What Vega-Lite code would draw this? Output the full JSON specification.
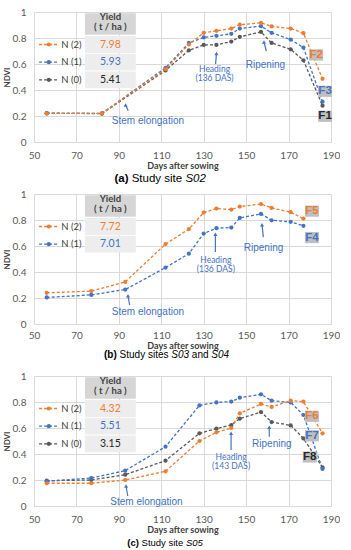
{
"$schema": "https://vega.github.io/schema/vega-lite/v6.json",
"background": "white",
"padding": {"left": 3, "top": 7, "right": 0, "bottom": 0},
"spacing": 52,
"bounds": "flush",
"config": {
  "view": {"stroke": null},
  "axis": {"grid": true, "gridColor": "#d9d9d9", "gridWidth": 1, "domain": false, "ticks": false,
    "labelOverlap": false, "labelFlush": false,
    "labelFont": "Lato", "labelFontSize": 10, "labelColor": "#595959",
    "titleFont": "Lato", "titleFontSize": 9, "titleColor": "#404040", "titleFontWeight": "bold"},
  "axisY": {"tickCount": 10},
  "axisX": {"tickCount": 10}
},
"datasets": {
  "ndvi": [
    {"p":"a","s":"N (0)","d":56,"v":0.222},{"p":"a","s":"N (0)","d":82,"v":0.218},{"p":"a","s":"N (0)","d":112,"v":0.55},{"p":"a","s":"N (0)","d":123,"v":0.705},{"p":"a","s":"N (0)","d":130,"v":0.747},{"p":"a","s":"N (0)","d":136,"v":0.747},{"p":"a","s":"N (0)","d":143,"v":0.773},{"p":"a","s":"N (0)","d":147,"v":0.809},{"p":"a","s":"N (0)","d":157,"v":0.847},{"p":"a","s":"N (0)","d":162,"v":0.762},{"p":"a","s":"N (0)","d":171,"v":0.713},{"p":"a","s":"N (0)","d":177,"v":0.628},{"p":"a","s":"N (0)","d":186,"v":0.279},
    {"p":"a","s":"N (1)","d":56,"v":0.22},{"p":"a","s":"N (1)","d":82,"v":0.22},{"p":"a","s":"N (1)","d":112,"v":0.571},{"p":"a","s":"N (1)","d":123,"v":0.762},{"p":"a","s":"N (1)","d":130,"v":0.804},{"p":"a","s":"N (1)","d":136,"v":0.817},{"p":"a","s":"N (1)","d":143,"v":0.832},{"p":"a","s":"N (1)","d":147,"v":0.873},{"p":"a","s":"N (1)","d":157,"v":0.891},{"p":"a","s":"N (1)","d":162,"v":0.84},{"p":"a","s":"N (1)","d":171,"v":0.788},{"p":"a","s":"N (1)","d":177,"v":0.726},{"p":"a","s":"N (1)","d":186,"v":0.31},
    {"p":"a","s":"N (2)","d":56,"v":0.22},{"p":"a","s":"N (2)","d":82,"v":0.22},{"p":"a","s":"N (2)","d":112,"v":0.56},{"p":"a","s":"N (2)","d":123,"v":0.75},{"p":"a","s":"N (2)","d":130,"v":0.84},{"p":"a","s":"N (2)","d":136,"v":0.855},{"p":"a","s":"N (2)","d":143,"v":0.873},{"p":"a","s":"N (2)","d":147,"v":0.902},{"p":"a","s":"N (2)","d":157,"v":0.917},{"p":"a","s":"N (2)","d":162,"v":0.889},{"p":"a","s":"N (2)","d":171,"v":0.873},{"p":"a","s":"N (2)","d":177,"v":0.837},{"p":"a","s":"N (2)","d":186,"v":0.486},
    {"p":"b","s":"N (1)","d":56,"v":0.204},{"p":"b","s":"N (1)","d":77,"v":0.224},{"p":"b","s":"N (1)","d":93,"v":0.265},{"p":"b","s":"N (1)","d":112,"v":0.434},{"p":"b","s":"N (1)","d":123,"v":0.541},{"p":"b","s":"N (1)","d":130,"v":0.696},{"p":"b","s":"N (1)","d":136,"v":0.737},{"p":"b","s":"N (1)","d":143,"v":0.742},{"p":"b","s":"N (1)","d":147,"v":0.816},{"p":"b","s":"N (1)","d":157,"v":0.847},{"p":"b","s":"N (1)","d":162,"v":0.798},{"p":"b","s":"N (1)","d":171,"v":0.786},{"p":"b","s":"N (1)","d":177,"v":0.755},
    {"p":"b","s":"N (2)","d":56,"v":0.24},{"p":"b","s":"N (2)","d":77,"v":0.253},{"p":"b","s":"N (2)","d":93,"v":0.324},{"p":"b","s":"N (2)","d":112,"v":0.615},{"p":"b","s":"N (2)","d":123,"v":0.73},{"p":"b","s":"N (2)","d":130,"v":0.857},{"p":"b","s":"N (2)","d":136,"v":0.888},{"p":"b","s":"N (2)","d":143,"v":0.88},{"p":"b","s":"N (2)","d":147,"v":0.903},{"p":"b","s":"N (2)","d":157,"v":0.923},{"p":"b","s":"N (2)","d":162,"v":0.893},{"p":"b","s":"N (2)","d":171,"v":0.86},{"p":"b","s":"N (2)","d":177,"v":0.811},
    {"p":"c","s":"N (0)","d":56,"v":0.195},{"p":"c","s":"N (0)","d":77,"v":0.2},{"p":"c","s":"N (0)","d":93,"v":0.241},{"p":"c","s":"N (0)","d":112,"v":0.349},{"p":"c","s":"N (0)","d":128,"v":0.559},{"p":"c","s":"N (0)","d":136,"v":0.595},{"p":"c","s":"N (0)","d":143,"v":0.623},{"p":"c","s":"N (0)","d":147,"v":0.672},{"p":"c","s":"N (0)","d":157,"v":0.723},{"p":"c","s":"N (0)","d":162,"v":0.646},{"p":"c","s":"N (0)","d":171,"v":0.62},{"p":"c","s":"N (0)","d":177,"v":0.52},{"p":"c","s":"N (0)","d":186,"v":0.297},
    {"p":"c","s":"N (1)","d":56,"v":0.19},{"p":"c","s":"N (1)","d":77,"v":0.215},{"p":"c","s":"N (1)","d":93,"v":0.272},{"p":"c","s":"N (1)","d":112,"v":0.456},{"p":"c","s":"N (1)","d":128,"v":0.774},{"p":"c","s":"N (1)","d":136,"v":0.797},{"p":"c","s":"N (1)","d":143,"v":0.803},{"p":"c","s":"N (1)","d":147,"v":0.833},{"p":"c","s":"N (1)","d":157,"v":0.859},{"p":"c","s":"N (1)","d":162,"v":0.81},{"p":"c","s":"N (1)","d":171,"v":0.797},{"p":"c","s":"N (1)","d":177,"v":0.7},{"p":"c","s":"N (1)","d":186,"v":0.285},
    {"p":"c","s":"N (2)","d":56,"v":0.175},{"p":"c","s":"N (2)","d":77,"v":0.175},{"p":"c","s":"N (2)","d":93,"v":0.2},{"p":"c","s":"N (2)","d":112,"v":0.267},{"p":"c","s":"N (2)","d":128,"v":0.5},{"p":"c","s":"N (2)","d":136,"v":0.567},{"p":"c","s":"N (2)","d":143,"v":0.6},{"p":"c","s":"N (2)","d":147,"v":0.713},{"p":"c","s":"N (2)","d":157,"v":0.785},{"p":"c","s":"N (2)","d":162,"v":0.762},{"p":"c","s":"N (2)","d":171,"v":0.81},{"p":"c","s":"N (2)","d":177,"v":0.803},{"p":"c","s":"N (2)","d":186,"v":0.559}
  ],
  "legend": [
    {"p":"a","s":"N (2)","yield":"7.98","y":0.75,"y1":0.815,"y2":0.685},
    {"p":"a","s":"N (1)","yield":"5.93","y":0.614,"y1":0.678,"y2":0.55},
    {"p":"a","s":"N (0)","yield":"5.41","y":0.478,"y1":0.543,"y2":0.413},
    {"p":"b","s":"N (2)","yield":"7.72","y":0.75,"y1":0.815,"y2":0.685},
    {"p":"b","s":"N (1)","yield":"7.01","y":0.614,"y1":0.678,"y2":0.55},
    {"p":"c","s":"N (2)","yield":"4.32","y":0.75,"y1":0.815,"y2":0.685},
    {"p":"c","s":"N (1)","yield":"5.51","y":0.614,"y1":0.678,"y2":0.55},
    {"p":"c","s":"N (0)","yield":"3.15","y":0.478,"y1":0.543,"y2":0.413}
  ],
  "header": [{"t":"Yield","y":0.958},{"t":"( t / ha )","y":0.882}],
  "notes": [
    {"p":"a","kind":"stage","x":103.7,"y":0.16,"t":"Stem elongation"},
    {"p":"a","kind":"stage","x":159.1,"y":0.59,"t":"Ripening"},
    {"p":"a","kind":"heading","x":135.1,"y":0.56,"t":"Heading"},
    {"p":"a","kind":"heading","x":135.1,"y":0.49,"t":"(136 DAS)"},
    {"p":"b","kind":"stage","x":103.7,"y":0.094,"t":"Stem elongation"},
    {"p":"b","kind":"stage","x":158.2,"y":0.584,"t":"Ripening"},
    {"p":"b","kind":"heading","x":135.7,"y":0.495,"t":"Heading"},
    {"p":"b","kind":"heading","x":135.7,"y":0.426,"t":"(136 DAS)"},
    {"p":"c","kind":"stage","x":103,"y":0.033,"t":"Stem elongation"},
    {"p":"c","kind":"stage","x":162.1,"y":0.477,"t":"Ripening"},
    {"p":"c","kind":"heading","x":142.9,"y":0.38,"t":"Heading"},
    {"p":"c","kind":"heading","x":142.9,"y":0.308,"t":"(143 DAS)"}
  ],
  "arrows": [
    {"p":"a","x":94.4,"y":0.24,"x2":93.2,"y2":0.284},
    {"p":"a","x":135.6,"y":0.6,"x2":136,"y2":0.68},
    {"p":"a","x":159.5,"y":0.7,"x2":158.4,"y2":0.77},
    {"p":"b","x":95.1,"y":0.145,"x2":94.3,"y2":0.217},
    {"p":"b","x":135.5,"y":0.554,"x2":135.5,"y2":0.691},
    {"p":"b","x":158.1,"y":0.668,"x2":157.5,"y2":0.763},
    {"p":"c","x":94.2,"y":0.077,"x2":93.4,"y2":0.154},
    {"p":"c","x":142.9,"y":0.431,"x2":142.9,"y2":0.559},
    {"p":"c","x":160.9,"y":0.533,"x2":160.9,"y2":0.605}
  ],
  "flabels": [
    {"p":"a","t":"F2","s":"N (2)","x":183,"y":0.67},
    {"p":"a","t":"F3","s":"N (1)","x":187.2,"y":0.39},
    {"p":"a","t":"F1","s":"N (0)","x":187.2,"y":0.198},
    {"p":"b","t":"F5","s":"N (2)","x":181,"y":0.868},
    {"p":"b","t":"F4","s":"N (1)","x":181,"y":0.665},
    {"p":"c","t":"F6","s":"N (2)","x":181,"y":0.69},
    {"p":"c","t":"F7","s":"N (1)","x":181,"y":0.54},
    {"p":"c","t":"F8","s":"N (0)","x":180,"y":0.377}
  ],
  "captions": [
    {"p":"a","part":"letter","x":87.95,"y":-0.285,"t":"(a)"},
    {"p":"a","part":"words","x":96.04,"y":-0.285,"t":"Study site"},
    {"p":"a","part":"site","x":121.36,"y":-0.285,"t":"S02"},
    {"p":"b","part":"letter","x":83.0,"y":-0.24,"t":"(b)"},
    {"p":"b","part":"words","x":90.35,"y":-0.24,"t":"Study sites"},
    {"p":"b","part":"site","x":114.7,"y":-0.24,"t":"S03"},
    {"p":"b","part":"words","x":124.4,"y":-0.24,"t":"and"},
    {"p":"b","part":"site","x":133.6,"y":-0.24,"t":"S04"},
    {"p":"c","part":"letter","x":93.98,"y":-0.287,"t":"(c)"},
    {"p":"c","part":"words","x":100.7,"y":-0.287,"t":"Study site"},
    {"p":"c","part":"site","x":121.65,"y":-0.287,"t":"S05"}
  ]
},
"vconcat": [
  {
    "width": 297, "height": 130,
    "layer": [
      {"data": {"name": "ndvi"}, "transform": [{"filter": "datum.p == 'a'"}],
       "mark": {"type": "line", "strokeDash": [3,2], "strokeWidth": 1.3, "point": {"filled": true, "size": 18, "opacity": 1}},
       "encoding": {
         "x": {"field": "d", "type": "quantitative", "scale": {"domain": [50,190], "nice": false},
               "axis": {"values": [50,70,90,110,130,150,170,190], "tickCount": 10, "title": "Days after sowing", "labelPadding": 8, "titlePadding": 1}},
         "y": {"field": "v", "type": "quantitative", "scale": {"domain": [0,1], "nice": false},
               "axis": {"values": [0,0.2,0.4,0.6,0.8,1], "tickCount": 10, "format": ".1~f", "title": "NDVI", "labelPadding": 8, "titlePadding": 1, "titleFontSize": 8, "labelOverlap": false}},
         "color": {"field": "s", "scale": {"domain": ["N (2)","N (1)","N (0)"], "range": ["#ED7D31","#4472C4","#595959"]}, "legend": null}}},
      {"data": {"name": "legend"}, "transform": [{"filter": "datum.p == 'a'"}],
       "mark": {"type": "rect", "fill": "#ededed"},
       "encoding": {"x": {"datum": 74}, "x2": {"datum": 98},
                    "y": {"field": "y1", "type": "quantitative"}, "y2": {"field": "y2"}}},
      {"data": {"values": [{"cell": "header"}]},
       "mark": {"type": "rect", "fill": "#d6d6d6"},
       "encoding": {"x": {"datum": 74}, "x2": {"datum": 98}, "y": {"datum": 0.99}, "y2": {"datum": 0.825}}},
      {"data": {"name": "header"},
       "mark": {"type": "text", "font": "Lato", "fontSize": 9.5, "fontWeight": "bold", "color": "#404040", "baseline": "middle"},
       "encoding": {"x": {"datum": 86}, "y": {"field": "y", "type": "quantitative"}, "text": {"field": "t"}}},
      {"data": {"name": "legend"}, "transform": [{"filter": "datum.p == 'a'"}],
       "mark": {"type": "text", "font": "Lato", "fontSize": 10.5, "baseline": "middle"},
       "encoding": {"x": {"datum": 86}, "y": {"field": "y", "type": "quantitative"}, "text": {"field": "yield"},
                    "fill": {"field": "s", "scale": {"domain": ["N (2)","N (1)","N (0)"], "range": ["#ED7D31","#4472C4","#262626"]}, "legend": null}}},
      {"data": {"name": "legend"}, "transform": [{"filter": "datum.p == 'a'"}],
       "mark": {"type": "rule", "strokeDash": [3,2], "strokeWidth": 1.3},
       "encoding": {"x": {"datum": 52.4}, "x2": {"datum": 61.3}, "y": {"field": "y", "type": "quantitative"},
                    "color": {"field": "s", "legend": null}}},
      {"data": {"name": "legend"}, "transform": [{"filter": "datum.p == 'a'"}],
       "mark": {"type": "point", "filled": true, "size": 18, "opacity": 1},
       "encoding": {"x": {"datum": 57}, "y": {"field": "y", "type": "quantitative"},
                    "color": {"field": "s", "legend": null}}},
      {"data": {"name": "legend"}, "transform": [{"filter": "datum.p == 'a'"}],
       "mark": {"type": "text", "font": "Lato", "fontSize": 9.5, "color": "#404040", "align": "left", "baseline": "middle"},
       "encoding": {"x": {"datum": 62.9}, "y": {"field": "y", "type": "quantitative"}, "text": {"field": "s"}}},
      {"data": {"name": "notes"}, "transform": [{"filter": "datum.p == 'a' && datum.kind == 'stage'"}],
       "mark": {"type": "text", "font": "Liberation Sans", "fontSize": 10, "color": "#4472C4", "baseline": "middle"},
       "encoding": {"x": {"field": "x", "type": "quantitative"}, "y": {"field": "y", "type": "quantitative"}, "text": {"field": "t"}}},
      {"data": {"name": "notes"}, "transform": [{"filter": "datum.p == 'a' && datum.kind == 'heading'"}],
       "mark": {"type": "text", "font": "Lato", "fontSize": 8.5, "color": "#4472C4", "baseline": "middle"},
       "encoding": {"x": {"field": "x", "type": "quantitative"}, "y": {"field": "y", "type": "quantitative"}, "text": {"field": "t"}}},
      {"data": {"name": "arrows"}, "transform": [{"filter": "datum.p == 'a'"}],
       "mark": {"type": "rule", "color": "#4472C4", "strokeWidth": 1.2},
       "encoding": {"x": {"field": "x", "type": "quantitative"}, "y": {"field": "y", "type": "quantitative"}, "x2": {"field": "x2"}, "y2": {"field": "y2"}}},
      {"data": {"name": "arrows"}, "transform": [{"filter": "datum.p == 'a'"}],
       "mark": {"type": "point", "shape": "triangle-up", "filled": true, "size": 16, "color": "#4472C4", "opacity": 1},
       "encoding": {"x": {"field": "x2", "type": "quantitative"}, "y": {"field": "y2", "type": "quantitative"}}},
      {"data": {"name": "flabels"}, "transform": [{"filter": "datum.p == 'a'"}],
       "mark": {"type": "point", "shape": "M-1,-0.8H1V0.8H-1Z", "filled": true, "size": 196, "color": "#bfbfbf", "opacity": 1},
       "encoding": {"x": {"field": "x", "type": "quantitative"}, "y": {"field": "y", "type": "quantitative"}}},
      {"data": {"name": "flabels"}, "transform": [{"filter": "datum.p == 'a'"}],
       "mark": {"type": "text", "font": "Liberation Sans", "fontSize": 11.5, "fontWeight": "bold", "baseline": "middle"},
       "encoding": {"x": {"field": "x", "type": "quantitative"}, "y": {"field": "y", "type": "quantitative"}, "text": {"field": "t"},
                    "fill": {"field": "s", "legend": null}}},
      {"data": {"name": "captions"}, "transform": [{"filter": "datum.p == 'a' && datum.part == 'letter'"}],
       "mark": {"type": "text", "font": "Liberation Sans", "fontSize": 11.5, "fontWeight": "bold", "color": "#000000", "align": "left", "baseline": "middle"},
       "encoding": {"x": {"field": "x", "type": "quantitative"}, "y": {"field": "y", "type": "quantitative"}, "text": {"field": "t"}}},
      {"data": {"name": "captions"}, "transform": [{"filter": "datum.p == 'a' && datum.part == 'words'"}],
       "mark": {"type": "text", "font": "Liberation Sans", "fontSize": 11.5, "color": "#000000", "align": "left", "baseline": "middle"},
       "encoding": {"x": {"field": "x", "type": "quantitative"}, "y": {"field": "y", "type": "quantitative"}, "text": {"field": "t"}}},
      {"data": {"name": "captions"}, "transform": [{"filter": "datum.p == 'a' && datum.part == 'site'"}],
       "mark": {"type": "text", "font": "Liberation Sans", "fontSize": 11.5, "fontStyle": "italic", "color": "#000000", "align": "left", "baseline": "middle"},
       "encoding": {"x": {"field": "x", "type": "quantitative"}, "y": {"field": "y", "type": "quantitative"}, "text": {"field": "t"}}}
    ]
  },
  {
    "width": 297, "height": 130,
    "layer": [
      {"data": {"name": "ndvi"}, "transform": [{"filter": "datum.p == 'b'"}],
       "mark": {"type": "line", "strokeDash": [3,2], "strokeWidth": 1.3, "point": {"filled": true, "size": 18, "opacity": 1}},
       "encoding": {
         "x": {"field": "d", "type": "quantitative", "scale": {"domain": [50,190], "nice": false},
               "axis": {"values": [50,70,90,110,130,150,170,190], "tickCount": 10, "title": "Days after sowing", "labelPadding": 6, "titlePadding": 1}},
         "y": {"field": "v", "type": "quantitative", "scale": {"domain": [0,1], "nice": false},
               "axis": {"values": [0,0.2,0.4,0.6,0.8,1], "tickCount": 10, "format": ".1~f", "title": "NDVI", "labelPadding": 8, "titlePadding": 1, "titleFontSize": 8, "labelOverlap": false}},
         "color": {"field": "s", "scale": {"domain": ["N (2)","N (1)","N (0)"], "range": ["#ED7D31","#4472C4","#595959"]}, "legend": null}}},
      {"data": {"name": "legend"}, "transform": [{"filter": "datum.p == 'b'"}],
       "mark": {"type": "rect", "fill": "#ededed"},
       "encoding": {"x": {"datum": 74}, "x2": {"datum": 98},
                    "y": {"field": "y1", "type": "quantitative"}, "y2": {"field": "y2"}}},
      {"data": {"values": [{"cell": "header"}]},
       "mark": {"type": "rect", "fill": "#d6d6d6"},
       "encoding": {"x": {"datum": 74}, "x2": {"datum": 98}, "y": {"datum": 0.99}, "y2": {"datum": 0.825}}},
      {"data": {"name": "header"},
       "mark": {"type": "text", "font": "Lato", "fontSize": 9.5, "fontWeight": "bold", "color": "#404040", "baseline": "middle"},
       "encoding": {"x": {"datum": 86}, "y": {"field": "y", "type": "quantitative"}, "text": {"field": "t"}}},
      {"data": {"name": "legend"}, "transform": [{"filter": "datum.p == 'b'"}],
       "mark": {"type": "text", "font": "Lato", "fontSize": 10.5, "baseline": "middle"},
       "encoding": {"x": {"datum": 86}, "y": {"field": "y", "type": "quantitative"}, "text": {"field": "yield"},
                    "fill": {"field": "s", "scale": {"domain": ["N (2)","N (1)","N (0)"], "range": ["#ED7D31","#4472C4","#262626"]}, "legend": null}}},
      {"data": {"name": "legend"}, "transform": [{"filter": "datum.p == 'b'"}],
       "mark": {"type": "rule", "strokeDash": [3,2], "strokeWidth": 1.3},
       "encoding": {"x": {"datum": 52.4}, "x2": {"datum": 61.3}, "y": {"field": "y", "type": "quantitative"},
                    "color": {"field": "s", "legend": null}}},
      {"data": {"name": "legend"}, "transform": [{"filter": "datum.p == 'b'"}],
       "mark": {"type": "point", "filled": true, "size": 18, "opacity": 1},
       "encoding": {"x": {"datum": 57}, "y": {"field": "y", "type": "quantitative"},
                    "color": {"field": "s", "legend": null}}},
      {"data": {"name": "legend"}, "transform": [{"filter": "datum.p == 'b'"}],
       "mark": {"type": "text", "font": "Lato", "fontSize": 9.5, "color": "#404040", "align": "left", "baseline": "middle"},
       "encoding": {"x": {"datum": 62.9}, "y": {"field": "y", "type": "quantitative"}, "text": {"field": "s"}}},
      {"data": {"name": "notes"}, "transform": [{"filter": "datum.p == 'b' && datum.kind == 'stage'"}],
       "mark": {"type": "text", "font": "Liberation Sans", "fontSize": 10, "color": "#4472C4", "baseline": "middle"},
       "encoding": {"x": {"field": "x", "type": "quantitative"}, "y": {"field": "y", "type": "quantitative"}, "text": {"field": "t"}}},
      {"data": {"name": "notes"}, "transform": [{"filter": "datum.p == 'b' && datum.kind == 'heading'"}],
       "mark": {"type": "text", "font": "Lato", "fontSize": 8.5, "color": "#4472C4", "baseline": "middle"},
       "encoding": {"x": {"field": "x", "type": "quantitative"}, "y": {"field": "y", "type": "quantitative"}, "text": {"field": "t"}}},
      {"data": {"name": "arrows"}, "transform": [{"filter": "datum.p == 'b'"}],
       "mark": {"type": "rule", "color": "#4472C4", "strokeWidth": 1.2},
       "encoding": {"x": {"field": "x", "type": "quantitative"}, "y": {"field": "y", "type": "quantitative"}, "x2": {"field": "x2"}, "y2": {"field": "y2"}}},
      {"data": {"name": "arrows"}, "transform": [{"filter": "datum.p == 'b'"}],
       "mark": {"type": "point", "shape": "triangle-up", "filled": true, "size": 16, "color": "#4472C4", "opacity": 1},
       "encoding": {"x": {"field": "x2", "type": "quantitative"}, "y": {"field": "y2", "type": "quantitative"}}},
      {"data": {"name": "flabels"}, "transform": [{"filter": "datum.p == 'b'"}],
       "mark": {"type": "point", "shape": "M-1,-0.8H1V0.8H-1Z", "filled": true, "size": 196, "color": "#bfbfbf", "opacity": 1},
       "encoding": {"x": {"field": "x", "type": "quantitative"}, "y": {"field": "y", "type": "quantitative"}}},
      {"data": {"name": "flabels"}, "transform": [{"filter": "datum.p == 'b'"}],
       "mark": {"type": "text", "font": "Liberation Sans", "fontSize": 11.5, "fontWeight": "bold", "baseline": "middle"},
       "encoding": {"x": {"field": "x", "type": "quantitative"}, "y": {"field": "y", "type": "quantitative"}, "text": {"field": "t"},
                    "fill": {"field": "s", "legend": null}}},
      {"data": {"name": "captions"}, "transform": [{"filter": "datum.p == 'b' && datum.part == 'letter'"}],
       "mark": {"type": "text", "font": "Liberation Sans", "fontSize": 10, "fontWeight": "bold", "color": "#000000", "align": "left", "baseline": "middle"},
       "encoding": {"x": {"field": "x", "type": "quantitative"}, "y": {"field": "y", "type": "quantitative"}, "text": {"field": "t"}}},
      {"data": {"name": "captions"}, "transform": [{"filter": "datum.p == 'b' && datum.part == 'words'"}],
       "mark": {"type": "text", "font": "Liberation Sans", "fontSize": 10, "color": "#000000", "align": "left", "baseline": "middle"},
       "encoding": {"x": {"field": "x", "type": "quantitative"}, "y": {"field": "y", "type": "quantitative"}, "text": {"field": "t"}}},
      {"data": {"name": "captions"}, "transform": [{"filter": "datum.p == 'b' && datum.part == 'site'"}],
       "mark": {"type": "text", "font": "Liberation Sans", "fontSize": 10, "fontStyle": "italic", "color": "#000000", "align": "left", "baseline": "middle"},
       "encoding": {"x": {"field": "x", "type": "quantitative"}, "y": {"field": "y", "type": "quantitative"}, "text": {"field": "t"}}}
    ]
  },
  {
    "width": 297, "height": 130,
    "layer": [
      {"data": {"name": "ndvi"}, "transform": [{"filter": "datum.p == 'c'"}],
       "mark": {"type": "line", "strokeDash": [3,2], "strokeWidth": 1.3, "point": {"filled": true, "size": 18, "opacity": 1}},
       "encoding": {
         "x": {"field": "d", "type": "quantitative", "scale": {"domain": [50,190], "nice": false},
               "axis": {"values": [50,70,90,110,130,150,170,190], "tickCount": 10, "title": "Days after sowing", "labelPadding": 8, "titlePadding": 1}},
         "y": {"field": "v", "type": "quantitative", "scale": {"domain": [0,1], "nice": false},
               "axis": {"values": [0,0.2,0.4,0.6,0.8,1], "tickCount": 10, "format": ".1~f", "title": "NDVI", "labelPadding": 8, "titlePadding": 1, "titleFontSize": 8, "labelOverlap": false}},
         "color": {"field": "s", "scale": {"domain": ["N (2)","N (1)","N (0)"], "range": ["#ED7D31","#4472C4","#595959"]}, "legend": null}}},
      {"data": {"name": "legend"}, "transform": [{"filter": "datum.p == 'c'"}],
       "mark": {"type": "rect", "fill": "#ededed"},
       "encoding": {"x": {"datum": 74}, "x2": {"datum": 98},
                    "y": {"field": "y1", "type": "quantitative"}, "y2": {"field": "y2"}}},
      {"data": {"values": [{"cell": "header"}]},
       "mark": {"type": "rect", "fill": "#d6d6d6"},
       "encoding": {"x": {"datum": 74}, "x2": {"datum": 98}, "y": {"datum": 0.99}, "y2": {"datum": 0.825}}},
      {"data": {"name": "header"},
       "mark": {"type": "text", "font": "Lato", "fontSize": 9.5, "fontWeight": "bold", "color": "#404040", "baseline": "middle"},
       "encoding": {"x": {"datum": 86}, "y": {"field": "y", "type": "quantitative"}, "text": {"field": "t"}}},
      {"data": {"name": "legend"}, "transform": [{"filter": "datum.p == 'c'"}],
       "mark": {"type": "text", "font": "Lato", "fontSize": 10.5, "baseline": "middle"},
       "encoding": {"x": {"datum": 86}, "y": {"field": "y", "type": "quantitative"}, "text": {"field": "yield"},
                    "fill": {"field": "s", "scale": {"domain": ["N (2)","N (1)","N (0)"], "range": ["#ED7D31","#4472C4","#262626"]}, "legend": null}}},
      {"data": {"name": "legend"}, "transform": [{"filter": "datum.p == 'c'"}],
       "mark": {"type": "rule", "strokeDash": [3,2], "strokeWidth": 1.3},
       "encoding": {"x": {"datum": 52.4}, "x2": {"datum": 61.3}, "y": {"field": "y", "type": "quantitative"},
                    "color": {"field": "s", "legend": null}}},
      {"data": {"name": "legend"}, "transform": [{"filter": "datum.p == 'c'"}],
       "mark": {"type": "point", "filled": true, "size": 18, "opacity": 1},
       "encoding": {"x": {"datum": 57}, "y": {"field": "y", "type": "quantitative"},
                    "color": {"field": "s", "legend": null}}},
      {"data": {"name": "legend"}, "transform": [{"filter": "datum.p == 'c'"}],
       "mark": {"type": "text", "font": "Lato", "fontSize": 9.5, "color": "#404040", "align": "left", "baseline": "middle"},
       "encoding": {"x": {"datum": 62.9}, "y": {"field": "y", "type": "quantitative"}, "text": {"field": "s"}}},
      {"data": {"name": "notes"}, "transform": [{"filter": "datum.p == 'c' && datum.kind == 'stage'"}],
       "mark": {"type": "text", "font": "Liberation Sans", "fontSize": 10, "color": "#4472C4", "baseline": "middle"},
       "encoding": {"x": {"field": "x", "type": "quantitative"}, "y": {"field": "y", "type": "quantitative"}, "text": {"field": "t"}}},
      {"data": {"name": "notes"}, "transform": [{"filter": "datum.p == 'c' && datum.kind == 'heading'"}],
       "mark": {"type": "text", "font": "Lato", "fontSize": 8.5, "color": "#4472C4", "baseline": "middle"},
       "encoding": {"x": {"field": "x", "type": "quantitative"}, "y": {"field": "y", "type": "quantitative"}, "text": {"field": "t"}}},
      {"data": {"name": "arrows"}, "transform": [{"filter": "datum.p == 'c'"}],
       "mark": {"type": "rule", "color": "#4472C4", "strokeWidth": 1.2},
       "encoding": {"x": {"field": "x", "type": "quantitative"}, "y": {"field": "y", "type": "quantitative"}, "x2": {"field": "x2"}, "y2": {"field": "y2"}}},
      {"data": {"name": "arrows"}, "transform": [{"filter": "datum.p == 'c'"}],
       "mark": {"type": "point", "shape": "triangle-up", "filled": true, "size": 16, "color": "#4472C4", "opacity": 1},
       "encoding": {"x": {"field": "x2", "type": "quantitative"}, "y": {"field": "y2", "type": "quantitative"}}},
      {"data": {"name": "flabels"}, "transform": [{"filter": "datum.p == 'c'"}],
       "mark": {"type": "point", "shape": "M-1,-0.8H1V0.8H-1Z", "filled": true, "size": 196, "color": "#bfbfbf", "opacity": 1},
       "encoding": {"x": {"field": "x", "type": "quantitative"}, "y": {"field": "y", "type": "quantitative"}}},
      {"data": {"name": "flabels"}, "transform": [{"filter": "datum.p == 'c'"}],
       "mark": {"type": "text", "font": "Liberation Sans", "fontSize": 11.5, "fontWeight": "bold", "baseline": "middle"},
       "encoding": {"x": {"field": "x", "type": "quantitative"}, "y": {"field": "y", "type": "quantitative"}, "text": {"field": "t"},
                    "fill": {"field": "s", "legend": null}}},
      {"data": {"name": "captions"}, "transform": [{"filter": "datum.p == 'c' && datum.part == 'letter'"}],
       "mark": {"type": "text", "font": "Liberation Sans", "fontSize": 9.5, "fontWeight": "bold", "color": "#000000", "align": "left", "baseline": "middle"},
       "encoding": {"x": {"field": "x", "type": "quantitative"}, "y": {"field": "y", "type": "quantitative"}, "text": {"field": "t"}}},
      {"data": {"name": "captions"}, "transform": [{"filter": "datum.p == 'c' && datum.part == 'words'"}],
       "mark": {"type": "text", "font": "Liberation Sans", "fontSize": 9.5, "color": "#000000", "align": "left", "baseline": "middle"},
       "encoding": {"x": {"field": "x", "type": "quantitative"}, "y": {"field": "y", "type": "quantitative"}, "text": {"field": "t"}}},
      {"data": {"name": "captions"}, "transform": [{"filter": "datum.p == 'c' && datum.part == 'site'"}],
       "mark": {"type": "text", "font": "Liberation Sans", "fontSize": 9.5, "fontStyle": "italic", "color": "#000000", "align": "left", "baseline": "middle"},
       "encoding": {"x": {"field": "x", "type": "quantitative"}, "y": {"field": "y", "type": "quantitative"}, "text": {"field": "t"}}}
    ]
  }
]
}
